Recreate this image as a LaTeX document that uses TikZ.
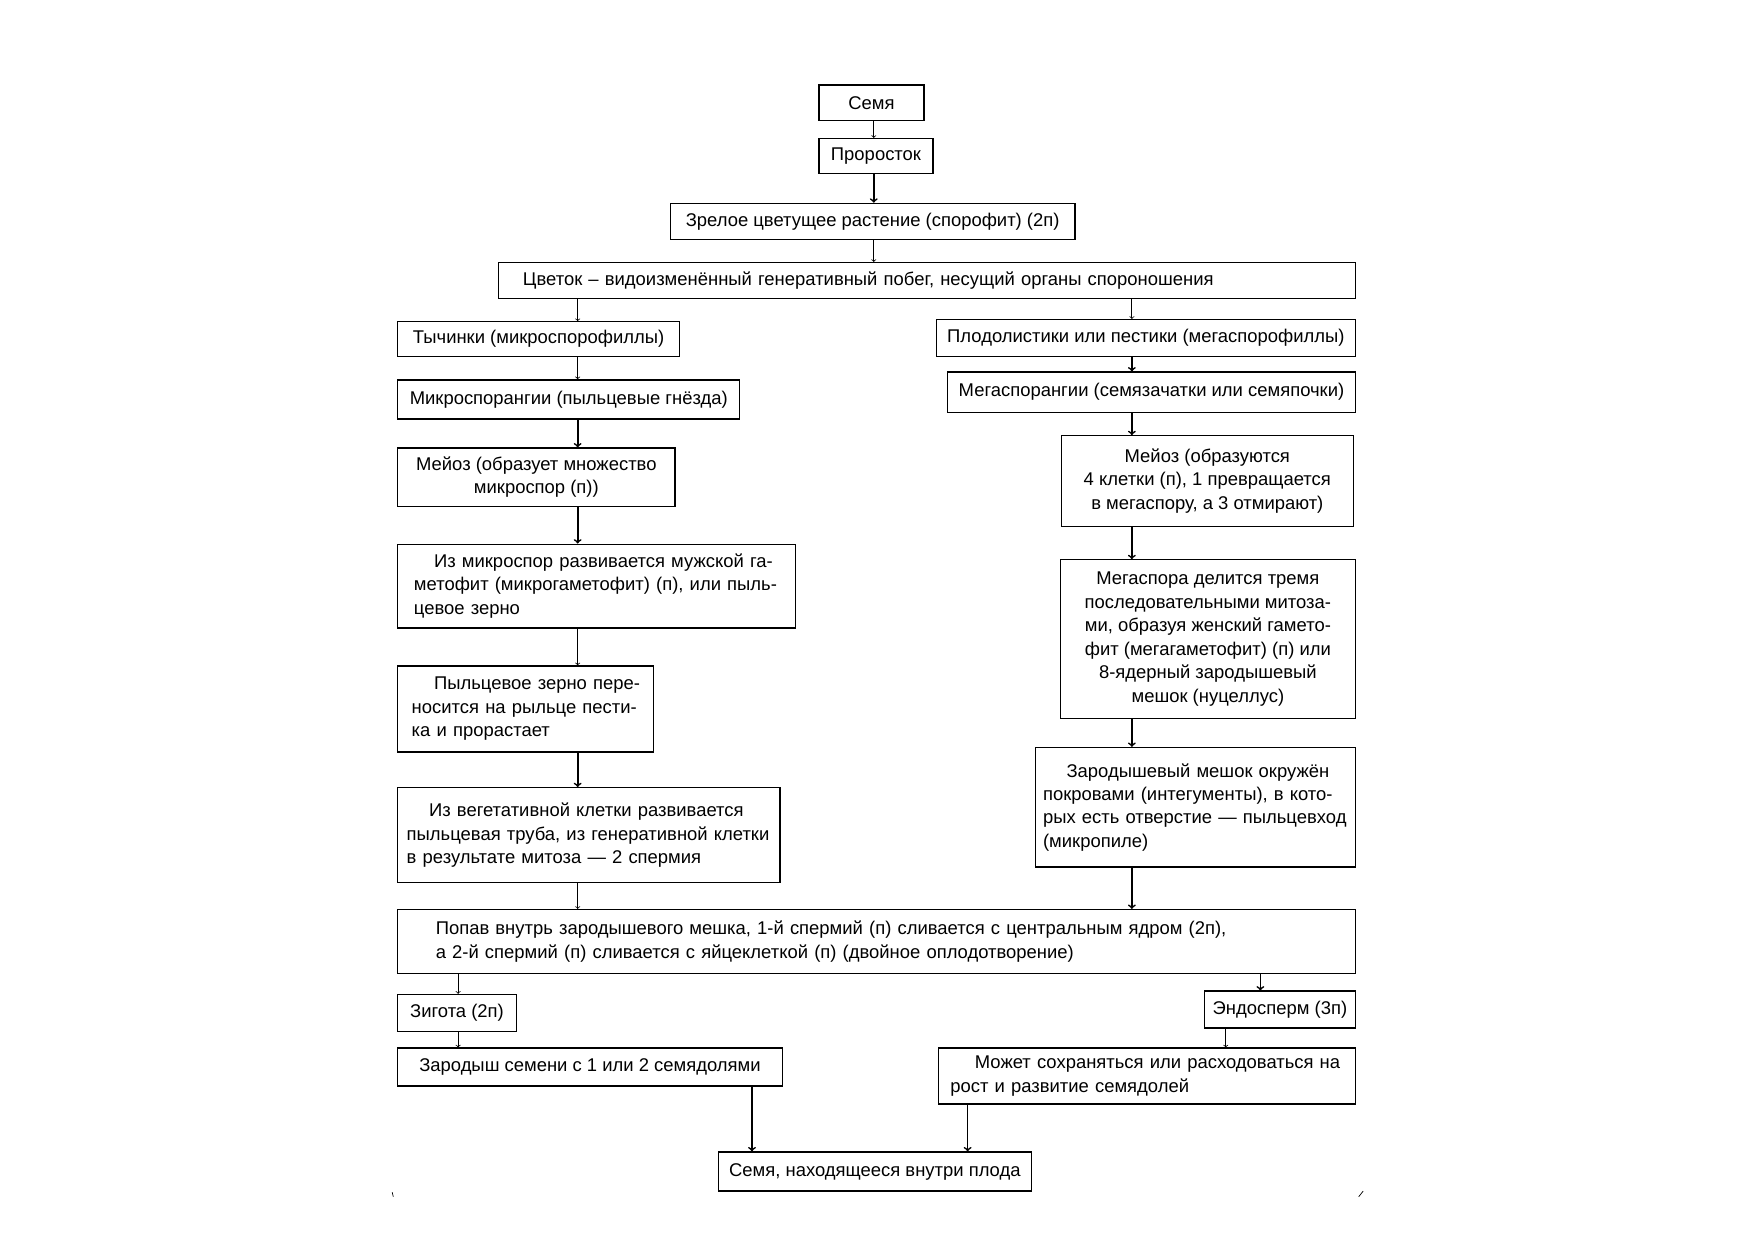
\documentclass[tikz,border=0pt]{standalone}
\usepackage{fontspec}
\setmainfont{Liberation Sans}
\usepackage{tikz}
\usetikzlibrary{arrows}
\setlength{\parindent}{0pt}
\newcommand{\jline}[1]{\makebox[\hsize][s]{#1}} % justified line of a box
\tikzset{x=1pt, y=-1pt,
stage/.style={ % Sets the properties for each box
draw,
line width=1.1pt,
inner sep=0pt,
align=center,
font=\fontsize{16.5}{21}\selectfont},
para/.style={ % Boxes with indented justified text
stage,
align=left},
link/.style={ % thin transitions
draw,
->,
line width=0.7pt},
heavy/.style={ % bold transitions
link,
line width=1.5pt}}

\begin{document}
\begin{tikzpicture}
\useasboundingbox (0,0) rectangle (1568,1109);
% columns of the arrows
\coordinate (axis) at (782,0);
\coordinate (lcol) at (517,0);
\coordinate (rcol) at (1013,0);
\coordinate (zcol) at (410,0);
\coordinate (ecol) at (1128,0);
\coordinate (kcol) at (1097,0);
\coordinate (fl) at (673,0);
\coordinate (fr) at (866,0);

\node[stage, minimum width=94, minimum height=32] (seed) at (780,92) {Семя};
\node[stage, minimum width=102, minimum height=31] (sprout) at (784,139.5) {Проросток};
\node[stage, minimum width=362, minimum height=32] (plant) at (781,198) {Зрелое цветущее растение (спорофит) (2п)};
\node[para, text width=723pt, minimum width=767, minimum height=32] (flower) at (829.5,251) {Цветок – видоизменённый генеративный побег, несущий органы спороношения};

\node[stage, minimum width=252, minimum height=31] (stamen) at (482,303.5) {Тычинки (микроспорофиллы)};
\node[stage, minimum width=306, minimum height=35] (microsp) at (509,357.5) {Микроспорангии (пыльцевые гнёзда)};
\node[stage, minimum width=248, minimum height=52] (meioL) at (480,427) {Мейоз (образует множество\\микроспор (п))};
\node[para, text width=327pt, minimum width=356, minimum height=75] (gameto) at (534,524.5) {\jline{\hspace*{18pt}Из микроспор развивается мужской га-}\\\jline{метофит (микрогаметофит) (п), или пыль-}\\цевое зерно};
\node[para, text width=204pt, minimum width=229, minimum height=77] (pollen) at (470.5,634.5) {\jline{\hspace*{20pt}Пыльцевое зерно пере-}\\\jline{носится на рыльце пести-}\\ка и прорастает};
\node[para, text width=326pt, minimum width=342, minimum height=85] (tube) at (527,747.5) {\jline{\hspace*{20pt}Из вегетативной клетки развивается}\\\jline{пыльцевая труба, из генеративной клетки}\\в результате митоза — 2 спермия};

\node[stage, minimum width=375, minimum height=33] (carpel) at (1025.5,302.5) {Плодолистики или пестики (мегаспорофиллы)};
\node[stage, minimum width=365, minimum height=36] (megasp) at (1030.5,351) {Мегаспорангии (семязачатки или семяпочки)};
\node[stage, minimum width=261, minimum height=81] (meioR) at (1080.5,430.5) {Мейоз (образуются\\4 клетки (п), 1 превращается\\в мегаспору, а 3 отмирают)};
\node[stage, minimum width=264, minimum height=142] (megadiv) at (1081,572) {Мегаспора делится тремя\\последовательными митоза-\\ми, образуя женский гамето-\\фит (мегагаметофит) (п) или\\8-ядерный зародышевый\\мешок (нуцеллус)};
\node[para, text width=273pt, minimum width=286, minimum height=107] (sac) at (1070,722.5) {\jline{\hspace*{21pt}Зародышевый мешок окружён}\\\jline{покровами (интегументы), в кото-}\\\jline{рых есть отверстие — пыльцевход}\\(микропиле)};

\node[para, text width=789pt, minimum width=857, minimum height=57] (fusion) at (784.5,842.5) {Попав внутрь зародышевого мешка, 1-й спермий (п) сливается с центральным ядром (2п),\\а 2-й спермий (п) сливается с яйцеклеткой (п) (двойное оплодотворение)};

\node[stage, minimum width=106, minimum height=33] (zygote) at (409,906.5) {Зигота (2п)};
\node[stage, minimum width=344, minimum height=34] (embryo) at (528,955) {Зародыш семени с 1 или 2 семядолями};
\node[stage, minimum width=135, minimum height=33] (endo) at (1145.5,903.5) {Эндосперм (3п)};
\node[para, text width=352pt, minimum width=373, minimum height=50] (keeps) at (1026.5,963) {\jline{\hspace*{22pt}Может сохраняться или расходоваться на}\\рост и развитие семядолей};
\node[stage, minimum width=280, minimum height=35] (fruit) at (783,1048.5) {Семя, находящееся внутри плода};

\draw[link] (seed.south -| axis) -- (sprout.north -| axis);
\draw[heavy] (sprout.south -| axis) -- (plant.north -| axis);
\draw[link] (plant.south -| axis) -- (flower.north -| axis);
\draw[link] (flower.south -| lcol) -- (stamen.north -| lcol);
\draw[link] (flower.south -| rcol) -- (carpel.north -| rcol);
\draw[link] (stamen.south -| lcol) -- (microsp.north -| lcol);
\draw[heavy] (carpel.south -| rcol) -- (megasp.north -| rcol);
\draw[heavy] (microsp.south -| lcol) -- (meioL.north -| lcol);
\draw[heavy] (megasp.south -| rcol) -- (meioR.north -| rcol);
\draw[heavy] (meioL.south -| lcol) -- (gameto.north -| lcol);
\draw[heavy] (meioR.south -| rcol) -- (megadiv.north -| rcol);
\draw[link] (gameto.south -| lcol) -- (pollen.north -| lcol);
\draw[heavy] (megadiv.south -| rcol) -- (sac.north -| rcol);
\draw[heavy] (pollen.south -| lcol) -- (tube.north -| lcol);
\draw[link] (tube.south -| lcol) -- (fusion.north -| lcol);
\draw[heavy] (sac.south -| rcol) -- (fusion.north -| rcol);
\draw[link] (fusion.south -| zcol) -- (zygote.north -| zcol);
\draw[heavy] (fusion.south -| ecol) -- (endo.north -| ecol);
\draw[link] (zygote.south -| zcol) -- (embryo.north -| zcol);
\draw[link] (endo.south -| kcol) -- (keeps.north -| kcol);
\draw[heavy] (embryo.south -| fl) -- (fruit.north -| fl);
\draw[heavy] (keeps.south -| fr) -- (fruit.north -| fr);

% specks at the foot of the page
\draw[line width=0.6pt] (351,1067) -- (352,1071);
\draw[line width=0.6pt] (1216,1071) -- (1220,1066);
\end{tikzpicture}
\end{document}
